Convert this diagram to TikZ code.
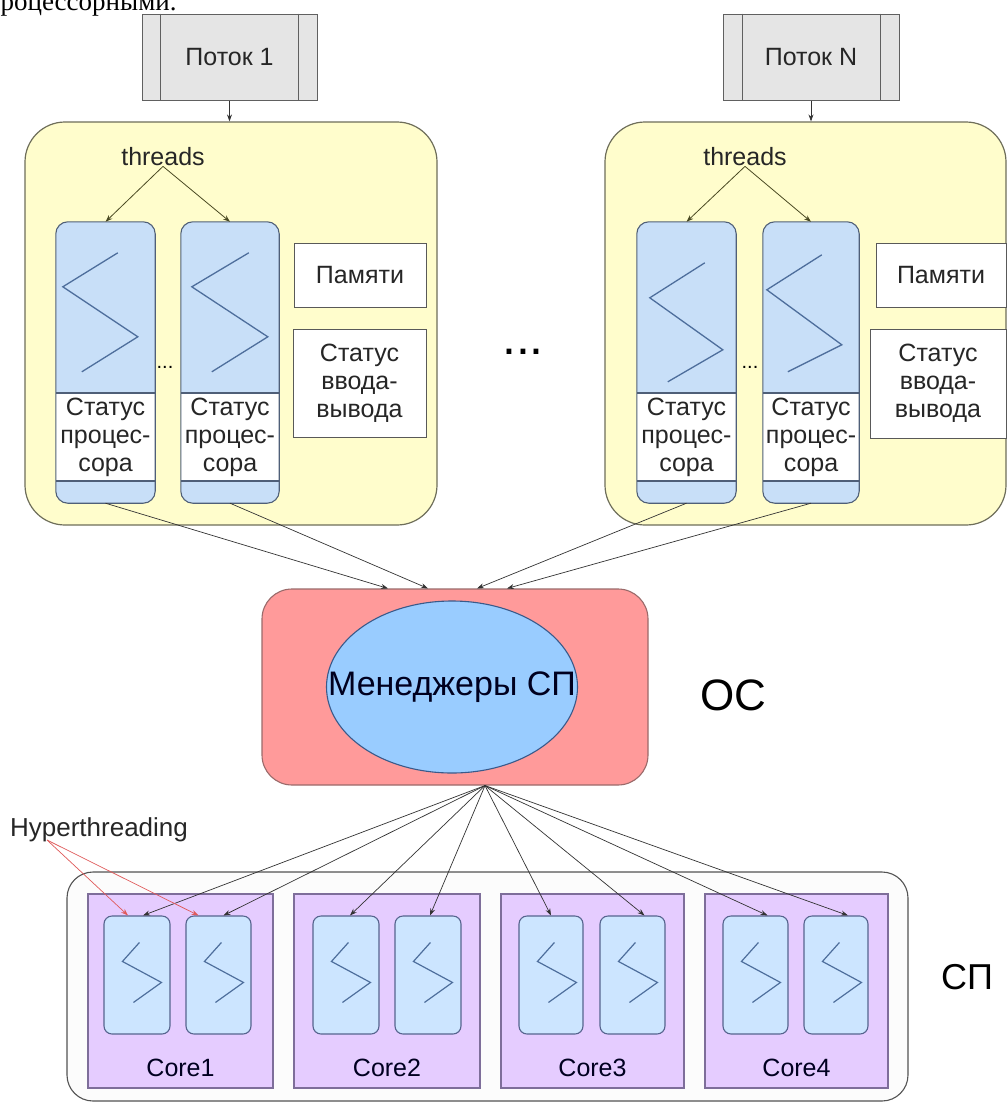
\documentclass[tikz,border=0pt]{standalone}
\usepackage{fontspec}
\setmainfont{Liberation Sans}
\newfontfamily\timesfont{Liberation Serif}
\usetikzlibrary{shapes.geometric,fit,arrows.meta,calc}
\definecolor{yfill}{HTML}{FFFDCC}
\definecolor{yline}{HTML}{6E6E5A}
\definecolor{tfill}{HTML}{C8DFF8}
\definecolor{tline}{HTML}{4F5F78}
\definecolor{zigc}{HTML}{4E6E9C}
\definecolor{osfill}{HTML}{FF9A9A}
\definecolor{osline}{HTML}{9A6A6A}
\definecolor{elfill}{HTML}{99CCFF}
\definecolor{elline}{HTML}{3A5A8A}
\definecolor{corefill}{HTML}{E5CCFF}
\definecolor{coreline}{HTML}{7E6E9A}
\definecolor{sfill}{HTML}{CCE5FF}
\definecolor{sline}{HTML}{56648E}
\definecolor{olive}{HTML}{4A4A22}
\definecolor{hyred}{HTML}{E05A5A}
\begin{document}
\begin{tikzpicture}[x=1pt,y=-1pt,
  txt/.style={font=\fontsize{25}{28}\selectfont, text=black!85, inner sep=0},
  potok/.style={draw=gray!75!black, fill=gray!20, inner sep=0, line width=1pt},
  ybox/.style={draw=yline, fill=yfill, rounded corners=40pt, inner sep=0, line width=1.2pt},
  thrfill/.style={fill=tfill, rounded corners=12pt, inner sep=0},
  thrline/.style={draw=tline, line width=1.1pt},
  zig/.style={draw=zigc, line width=1.3pt},
  plain/.style={draw=gray!70!black, fill=white, inner sep=0, line width=1pt},
  osbox/.style={draw=osline, fill=osfill, rounded corners=30pt, inner sep=0, line width=1.1pt},
  spbox/.style={draw=gray!65!black, fill=white!98!gray, rounded corners=26pt, inner sep=0, line width=1.1pt},
  corebox/.style={draw=coreline, fill=corefill, inner sep=0, line width=1.1pt},
  sthr/.style={draw=sline, fill=sfill, rounded corners=8pt, inner sep=0, line width=1.1pt},
  szig/.style={draw=zigc, line width=1.2pt},
  conn/.style={-{Stealth[length=7pt,width=5pt]}, line width=0.7pt, draw=black!80},
  oconn/.style={-{Stealth[length=7pt,width=5pt]}, line width=0.8pt, draw=olive},
  rconn/.style={-{Stealth[length=7pt,width=5pt]}, line width=0.7pt, draw=hyred},
  lbl/.style={font=\fontsize{25}{28}\selectfont, text=black!85, inner sep=0}
]
\useasboundingbox (0,0) rectangle (1008,1104);
\clip (0,0) rectangle (1008,1104);
\fill[white] (0,0) rectangle (1008,1104);

% cut-off line of text at the top
\node[anchor=base west, inner sep=0, font=\timesfont\fontsize{27}{30}\selectfont] (toptext) at (-14,10) {процессорными.};

% ---------- stream boxes ----------
\node[potok, fit={(142,14) (317,100)}] (p1) {};
\draw[gray!75!black, line width=1pt] ([xshift=19pt]p1.north west) -- ([xshift=19pt]p1.south west);
\draw[gray!75!black, line width=1pt] ([xshift=-19pt]p1.north east) -- ([xshift=-19pt]p1.south east);
\node[txt] (p1t) at (p1.center) {Поток 1};

\node[potok, fit={(723,14) (899,100)}] (pN) {};
\draw[gray!75!black, line width=1pt] ([xshift=20pt]pN.north west) -- ([xshift=20pt]pN.south west);
\draw[gray!75!black, line width=1pt] ([xshift=-19pt]pN.north east) -- ([xshift=-19pt]pN.south east);
\node[txt] (pNt) at (pN.center) {Поток N};

% ---------- process boxes ----------
\node[ybox, fit={(25,122) (437,525)}] (y1) {};
\node[ybox, fit={(605,122) (1006,525)}] (y2) {};
\draw[conn] (p1.south) -- (p1.south |- y1.north);
\draw[conn] (pN.south) -- (pN.south |- y2.north);

\node[txt] (th1) at (163,157) {threads};
\node[txt] (th2) at (745,157) {threads};

% big thread boxes
\foreach \n/\xa/\xb in {t1a/56/155, t1b/181/279, t2a/637/736, t2b/763/859}{
  \node[thrfill, fit={(\xa,222) (\xb,503)}] (\n) {};
  \fill[white] (\xa,393) rectangle (\xb,481);
  \draw[thrline, rounded corners=12pt] (\n.south west) rectangle (\n.north east);
  \draw[thrline] (\xa,393) -- (\xb,393);
  \draw[thrline] (\xa,481) -- (\xb,481);
  \node[txt, align=center] (\n s) at (\n.center |- 0,437) {Статус\\процес-\\сора};
}
\draw[zig, shift={(t1a.north west)}] (62,31) -- (7,65) -- (82,115) -- (26,150);
\draw[zig, shift={(t1b.north west)}] (68,31) -- (11,65) -- (87,115) -- (31,150);
\draw[zig, shift={(t2a.north west)}] (68,41) -- (13,76) -- (86,128) -- (31,160);
\draw[zig, shift={(t2b.north west)}] (59,33) -- (4,68) -- (79,123) -- (25,150);

\draw[oconn] (th1.south) -- (t1a.north);
\draw[oconn] (th1.south) -- (t1b.north);
\draw[oconn] (th2.south) -- (t2a.north);
\draw[oconn] (th2.south) -- (t2b.north);

\node[inner sep=0, font=\fontsize{20}{20}\selectfont] (d1) at (165,367) {...};
\node[inner sep=0, font=\fontsize{20}{20}\selectfont] (d2) at (750,367) {...};

\node[plain, fit={(294,243) (426,307)}] (m1) {};
\node[txt] (m1t) at (m1.center) {Памяти};
\node[plain, fit={(293,329) (426,437)}] (io1) {};
\node[txt, align=center] (io1t) at (io1.center) {Статус\\ввода-\\вывода};
\node[plain, fit={(876,243) (1006,307)}] (m2) {};
\node[txt] (m2t) at (m2.center) {Памяти};
\node[plain, fit={(870,329) (1006,438)}] (io2) {};
\node[txt, align=center] (io2t) at (io2.center) {Статус\\ввода-\\вывода};

% big ellipsis between processes
\node[anchor=base, inner sep=0, font=\fontsize{50}{50}\selectfont] (bigdots) at (523,354) {...};

% ---------- OS ----------
\node[osbox, fit={(262,589) (648,785)}] (os) {};
\node[ellipse, draw=elline, fill=elfill, minimum width=251pt, minimum height=172pt, inner sep=0, line width=1.1pt] (mgr) at (452,687) {};
\node[inner sep=0, font=\fontsize{34}{36}\selectfont, text=black!80!blue!60!black] (mgrt) at (mgr.center) {Менеджеры СП};
\node[inner sep=0, font=\fontsize{44}{44}\selectfont] (oslbl) at (733,695) {ОС};

\draw[conn] (t1a.south) -- ([xshift=-67pt]os.north);
\draw[conn] (t1b.south) -- ([xshift=-27pt]os.north);
\draw[conn] (t2a.south) -- ([xshift=22pt]os.north);
\draw[conn] (t2b.south) -- ([xshift=52pt]os.north);

% ---------- processors ----------
\node[spbox, fit={(67,872) (908,1101)}] (sp) {};
\node[corebox, fit={(88,894) (273,1088)}] (c1) {};
\node[corebox, fit={(294,894) (480,1088)}] (c2) {};
\node[corebox, fit={(501,894) (684,1088)}] (c3) {};
\node[corebox, fit={(705,894) (888,1088)}] (c4) {};
\foreach \n/\xa/\xb in {c1a/104/170, c1b/186/251, c2a/313/379, c2b/395/461, c3a/519/583, c3b/600/665, c4a/723/788, c4b/804/868}{
  \node[sthr, fit={(\xa,916) (\xb,1034)}] (\n) {};
  \draw[szig, shift={(\n.north west)}] (36,27) -- (19,46) -- (58,67) -- (30,87);
}
\foreach \c/\t in {c1/Core1, c2/Core2, c3/Core3, c4/Core4}{
  \node[lbl, text=black!75!blue!50!black] (\c l) at (\c.center |- 0,1068) {\t};
}
\node[inner sep=0, font=\fontsize{36}{36}\selectfont] (splbl) at (967,977) {СП};

\coordinate (fan) at ([xshift=30pt]os.south);
\draw[conn] (fan) -- ([xshift=6pt]c1a.north);
\draw[conn] (fan) -- ([xshift=5pt]c1b.north);
\draw[conn] (fan) -- ([xshift=4pt]c2a.north);
\draw[conn] (fan) -- ([xshift=2pt]c2b.north);
\draw[conn] (fan) -- ([xshift=0pt]c3a.north);
\draw[conn] (fan) -- ([xshift=12pt]c3b.north);
\draw[conn] (fan) -- ([xshift=12pt]c4a.north);
\draw[conn] (fan) -- ([xshift=12pt]c4b.north);

\node[inner sep=0, font=\fontsize{26}{28}\selectfont, text=black!85] (hyp) at (99,830) {Hyperthreading};
\coordinate (hypsrc) at (47,840);
\draw[rconn] (hypsrc) -- ([xshift=-9pt]c1a.north);
\draw[rconn] (hypsrc) -- ([xshift=-20pt]c1b.north);
\end{tikzpicture}
\end{document}
